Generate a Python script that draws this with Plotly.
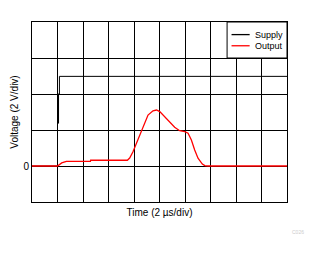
import plotly.graph_objects as go

# Data (time in µs, voltage in V)
supply_t = [0, 2.0, 2.0, 2.08, 2.08, 2.08, 2.15, 2.15, 20]
supply_v = [0, 0, 4.0, 4.0, 2.37, 4.0, 4.0, 4.98, 4.98]

output_t = [0, 2.0, 2.33, 2.70, 4.58, 4.6, 7.48, 7.66, 7.92, 8.31, 8.71, 9.10, 9.49, 9.76,
            10.02, 10.41, 10.80, 11.19, 11.58, 11.98, 12.24, 12.50, 12.76, 13.02, 13.36,
            13.55, 13.80, 20]
output_v = [0, 0, 0.17, 0.26, 0.26, 0.32, 0.32, 0.44, 0.79, 1.44, 2.18, 2.83, 3.07, 3.11,
            3.02, 2.74, 2.43, 2.15, 1.96, 1.91, 1.82, 1.44, 0.89, 0.43, 0.11,
            0.02, 0, 0]

x_ticks = [0, 2, 4, 6, 8, 10, 12, 14, 16, 18, 20]
y_ticks = [-2, 0, 2, 4, 6, 8]
y_labels = ["", "0", "", "", "", ""]

series_names = ["Supply", "Output"]
series_colors = ["black", "red"]

font = dict(family="Liberation Sans, Arial, sans-serif", size=10, color="black")

fig = go.Figure()
fig.add_trace(go.Scatter(x=supply_t, y=supply_v, mode="lines", name=series_names[0],
                         line=dict(color=series_colors[0], width=1)))
fig.add_trace(go.Scatter(x=output_t, y=output_v, mode="lines", name=series_names[1],
                         line=dict(color=series_colors[1], width=1.3)))

# Manual legend box (top-right, covering grid)
shapes = [dict(type="rect", xref="x", yref="y", x0=15.3, x1=20, y0=6, y1=8,
               fillcolor="white", line=dict(color="black", width=1), layer="above")]
annotations = []
for i, (nm, col) in enumerate(zip(series_names, series_colors)):
    yv = 7.3 - i * 0.62
    shapes.append(dict(type="line", xref="x", yref="y", x0=15.65, x1=17.07, y0=yv, y1=yv,
                       line=dict(color=col, width=1.3), layer="above"))
    annotations.append(dict(text=nm, x=17.35, y=yv, xref="x", yref="y", showarrow=False,
                            xanchor="left", yanchor="middle", font=dict(size=9)))

annotations.append(dict(text="C026", x=(298 - 32) / 255, y=(202 - 232) / 180,
                        xref="paper", yref="paper", showarrow=False,
                        xanchor="center", yanchor="middle",
                        font=dict(size=5, color="#cccccc")))

fig.update_layout(
    width=320, height=254,
    margin=dict(l=32, r=33, t=22, b=52),
    paper_bgcolor="white", plot_bgcolor="white",
    font=font,
    showlegend=False,
    xaxis=dict(range=[0, 20], tickvals=x_ticks, ticktext=[""] * len(x_ticks),
               showgrid=True, gridcolor="black", gridwidth=1,
               showline=True, linecolor="black", linewidth=1, mirror=True,
               zeroline=False, ticks="",
               title=dict(text="Time (2 µs/div)", font=dict(size=10), standoff=4)),
    yaxis=dict(range=[-2, 8], tickvals=y_ticks, ticktext=y_labels,
               showgrid=True, gridcolor="black", gridwidth=1,
               showline=True, linecolor="black", linewidth=1, mirror=True,
               zeroline=False, ticks="",
               title=dict(text="Voltage (2 V/div)", font=dict(size=10), standoff=2)),
    shapes=shapes,
    annotations=annotations,
)
fig.write_html("out.html")
